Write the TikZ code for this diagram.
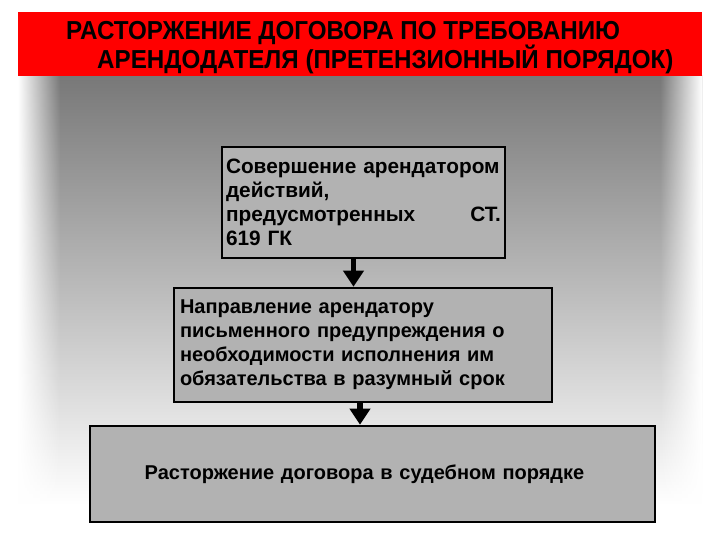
\documentclass[tikz,border=0pt]{standalone}
\usepackage{fontspec}
\setmainfont{Liberation Sans}
\newfontfamily\headfont[FakeStretch=0.93]{Liberation Sans}
\usetikzlibrary{shapes,arrows.meta,fadings}
\definecolor{head-red}{rgb}{1,0,0}
\definecolor{box-grey}{RGB}{178,178,178}
\definecolor{back-grey}{RGB}{120,120,120}

\begin{document}
\begin{tikzpicture}[x=1pt,y=-1pt]

\tikzstyle{step box}=[draw=black, line width=2.6pt, fill=box-grey, inner xsep=6pt, inner ysep=4pt, font=\bfseries\fontsize{20}{24}\selectfont]
\tikzstyle{head line}=[anchor=west, inner sep=0pt, font=\headfont\bfseries\fontsize{26}{28}\selectfont]
\tikzstyle{flow}=[line width=5.5pt, -{Triangle[width=20pt,length=16pt]}]

\useasboundingbox (0,0) rectangle (720,540);

% background
\shade[top color=back-grey, bottom color=white] (18,76) rectangle (702,505);
\fill[white] (18,504) rectangle (702,540);
\fill[white, path fading=east] (18,76) rectangle (60,530);
\fill[white, path fading=west] (660,76) rectangle (702,530);

% header
\node[fill=head-red, minimum width=684, minimum height=64, anchor=north west, inner sep=0pt] (header) at (18,12) {};
\node[head line] (title1) at (66,33) {РАСТОРЖЕНИЕ ДОГОВОРА ПО ТРЕБОВАНИЮ};
\node[head line] (title2) at (97,59) {АРЕНДОДАТЕЛЯ (ПРЕТЕНЗИОННЫЙ ПОРЯДОК)};

% steps
\node[step box, minimum height=111, inner xsep=4pt, text width=275pt, align=left, font=\bfseries\fontsize{20.8}{24}\selectfont] (act) at (363.5,202.5)
  {Совершение арендатором\\ действий,\\ предусмотренных \hfill СТ.\\ 619 ГК};
\node[step box, minimum height=114, text width=366pt, align=left] (notice) at (363,345)
  {Направление арендатору\\ письменного предупреждения о\\ необходимости исполнения им\\ обязательства в разумный срок};
\node[step box, minimum width=565, minimum height=96, text width=553pt, align=center] (court) at (372.5,474)
  {\hspace*{-16pt}Расторжение договора в судебном порядке};

\draw[flow] ([xshift=-10pt]act.south) -- ([xshift=-10pt]act.south |- notice.north);
\draw[flow] ([xshift=-3pt]notice.south) -- ([xshift=-3pt]notice.south |- court.north);

\end{tikzpicture}
\end{document}
